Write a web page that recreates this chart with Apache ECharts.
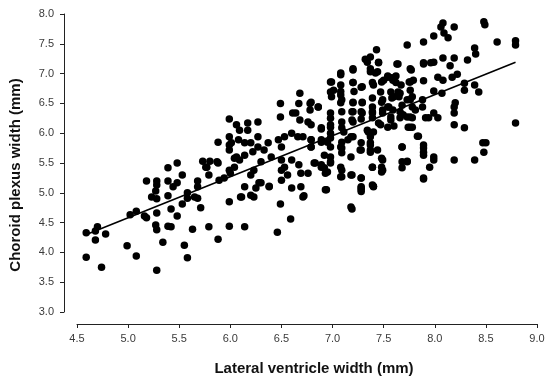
<!DOCTYPE html>
<html><head><meta charset="utf-8">
<script src="https://cdn.jsdelivr.net/npm/echarts@6/dist/echarts.min.js"></script>
<style>html,body{margin:0;padding:0;background:#fff}#c{width:550px;height:384px}</style>
</head><body><div id="c"></div>
<script>
// Lateral ventricle width (mm), Choroid plexus width (mm)
const pointsLeft = [
[4.59,4.33],[4.68,4.21],[4.70,4.43],[4.68,4.36],[4.78,4.31],[4.59,3.92],[4.74,3.75],[4.99,4.11],[5.08,3.94],[5.02,4.63],[5.08,4.69],[5.16,4.61],[5.18,4.58],[5.18,5.20],[5.28,5.20],[5.28,5.13],[5.27,5.03],[5.23,4.93],[5.28,4.90],[5.28,4.66],[5.27,4.46],[5.28,4.38],[5.34,4.17],[5.28,3.70],[5.39,5.42],[5.39,5.20],[5.39,4.95],[5.42,4.73],[5.39,4.44],[5.42,4.43],[5.48,5.50],[5.48,5.17],[5.44,5.10],[5.53,5.30],[5.48,4.61],[5.53,4.81],[5.55,4.12],[5.58,3.91],[5.58,5.00],[5.58,4.91],[5.63,4.39],[5.68,5.20],[5.68,5.10],[5.68,4.91],[5.71,4.75],[5.73,5.53],[5.77,5.43],[5.79,5.30],[5.80,5.53],[5.79,4.43],[5.88,5.85],[5.88,5.50],[5.89,5.21],[5.88,4.22],[5.94,5.25],[5.99,5.94],[5.99,5.72],[6.01,5.84],[5.99,5.38],[6.00,5.33],[5.99,4.85],[5.99,4.44],[6.04,5.58],[5.99,6.24],[5.87,5.52],[5.65,4.93],[5.76,5.43],[5.99,5.80]
];
const pointsMiddle = [
[6.68,6.67],[6.49,6.50],[6.49,6.27],[6.67,6.50],[6.78,6.50],[6.78,6.39],[6.86,6.44],[6.61,6.34],[6.64,6.34],[6.68,6.22],[6.76,6.19],[6.79,6.14],[6.89,6.07],[6.98,6.86],[6.98,6.69],[6.98,6.25],[6.98,6.14],[6.98,6.00],[7.08,7.01],[7.08,6.81],[7.08,6.64],[7.08,6.51],[7.20,7.06],[7.20,6.85],[7.21,6.70],[7.20,6.51],[7.20,6.36],[7.20,6.19],[7.29,6.78],[7.29,6.51],[7.29,6.34],[7.34,7.19],[7.37,7.03],[7.40,6.81],[7.44,7.03],[7.45,7.19],[7.50,6.89],[7.54,6.94],[7.39,6.44],[7.39,6.34],[7.49,6.56],[7.49,6.34],[7.54,6.44],
[6.06,6.14],[6.09,6.05],[6.17,6.17],[6.27,6.19],[6.17,6.05],[6.08,5.89],[6.14,5.84],[6.20,5.84],[6.27,5.94],[6.27,5.77],[6.06,5.60],[6.14,5.63],[6.09,5.55],[6.04,5.43],[6.22,5.69],[6.33,5.72],[6.37,5.84],[6.40,5.60],[6.30,5.52],[6.23,5.38],[6.20,5.30],[6.28,5.17],[6.25,5.08],[6.14,5.10],[6.11,4.93],[6.20,4.96],[6.38,5.10],[6.49,4.81],
[6.47,5.89],[6.53,5.94],[6.60,6.00],[6.66,5.94],[6.71,5.94],[6.79,5.89],[6.79,5.77],[6.89,5.85],[6.95,5.85],[6.50,5.77],[6.50,5.55],[6.53,5.43],[6.60,5.55],[6.50,5.38],[6.56,5.30],[6.50,5.21],[6.60,5.08],[6.67,5.47],[6.69,5.33],[6.69,5.10],[6.71,4.93],[6.76,5.33],[6.82,5.50],[6.89,5.43],[6.92,5.63],[6.95,5.35],[6.98,5.60],[6.98,5.50],[7.08,5.43],[7.08,5.27],[7.18,5.30],[6.93,5.05],[7.28,5.25],[7.28,5.08],[7.40,5.10],[7.39,5.43],[7.49,5.55],[7.49,5.38],[7.37,5.84],[7.37,5.72],[7.44,5.72],[7.27,5.72],[7.20,5.94],[7.11,6.02],[7.15,5.89],[7.08,5.77],[7.34,6.05],[7.40,6.02],[7.45,6.17],[7.54,6.10],[7.18,4.76],
[6.59,4.56],[6.46,4.34],[6.14,4.43],[7.19,4.73],[6.94,5.05],[6.72,4.95],[7.28,5.05],[7.40,5.11],[6.10,4.93],[6.23,4.93],[6.38,5.11],[6.30,5.17],
[6.83,5.50],[6.89,5.47],[6.92,5.42],[6.93,5.33],[6.98,5.52],[7.09,5.67],[7.09,5.38],[7.09,5.27],[7.19,5.30],[7.28,5.25],[7.28,5.10],[7.28,5.02],[7.39,5.43],[7.39,5.13],[7.48,5.58],[7.48,5.43],[7.48,5.35],
[7.43,7.40],[7.32,7.24],[7.37,7.28],[7.45,7.18],[7.37,7.08],[7.20,7.08],[7.42,7.01],[7.08,6.98],[6.99,6.86],[7.20,6.85],[7.28,6.77],[7.39,6.85],[7.48,6.86],[7.47,6.69],[7.01,6.72],[7.08,6.70],[6.99,6.61],[7.09,6.56],[7.20,6.52],[7.29,6.52],[7.39,6.59],[7.48,6.52],[6.86,6.44],[6.79,6.52],[6.98,6.34],[7.09,6.36],[7.19,6.36],[7.28,6.36],[7.39,6.36],[7.49,6.39],[7.09,6.19],[7.19,6.22],[7.28,6.24],[7.39,6.26],[7.47,6.14],[6.89,6.09],[6.98,6.10],[7.09,6.09],[7.35,6.02],[6.79,5.89],[6.89,5.89],[6.98,5.92],[7.09,5.85],[7.18,5.94],[7.28,5.84],[7.37,5.94],[7.37,5.80],[6.79,5.77],[6.98,5.77],[7.09,5.75],[7.28,5.72],[7.37,5.68],[7.18,5.60]
];
const pointsRight = [
[8.48,7.87],[8.49,7.82],[8.08,7.85],[8.06,7.78],[8.19,7.78],[8.09,7.68],[8.13,7.60],[7.99,7.63],[7.89,7.53],[7.73,7.48],[8.61,7.53],[8.79,7.55],[8.79,7.48],[8.39,7.43],[8.40,7.33],[8.08,7.26],[8.19,7.26],[8.32,7.23],[7.99,7.19],[7.96,7.18],[7.89,7.16],[8.15,7.13],[7.63,7.16],[7.77,7.06],[7.54,6.96],[7.62,6.96],[7.59,6.89],[7.67,6.81],[7.75,6.86],[7.79,6.89],[7.89,6.88],[8.03,6.94],[8.08,6.89],[8.17,6.94],[8.22,6.99],[8.29,6.84],[8.29,6.72],[8.39,6.81],[8.43,6.69],[7.99,6.71],[8.07,6.67],[7.64,6.69],[7.60,6.61],[7.65,6.61],[7.73,6.56],[7.78,6.61],[7.88,6.56],[7.88,6.44],[7.55,6.44],[7.59,6.39],[7.66,6.36],[7.78,6.44],[7.81,6.39],[8.20,6.51],[8.19,6.44],[8.19,6.34],[7.69,6.31],[7.73,6.27],[7.78,6.26],[7.94,6.26],[7.99,6.34],[8.03,6.26],[7.57,6.22],[7.60,6.12],[7.74,6.10],[7.78,6.10],[8.19,6.14],[8.29,6.09],[8.79,6.17],[7.84,5.95],[7.68,5.77],[7.89,5.80],[7.89,5.68],[8.47,5.84],[8.50,5.84],[8.48,5.68],[7.99,5.60],[8.19,5.55],[8.39,5.55],
[7.68,5.52],[7.68,5.42],[7.73,5.53],[7.89,5.63],[7.99,5.55],[7.95,5.43],[7.89,5.23],[7.64,7.16],[7.76,7.08],[7.58,6.93],[7.62,6.85],[7.76,6.86],[7.76,6.72],[7.57,6.69],[7.66,6.67],[7.58,6.59],[7.68,6.47],[7.76,6.56],[7.57,6.27],[7.66,6.26],[7.76,6.27],[7.91,6.26],[7.76,6.10],[7.83,5.95],[7.68,5.77],[7.89,5.75],[7.89,5.25],[7.73,5.52],[7.89,7.18]
];
const regressionLine = [[4.58,4.29],[8.79,7.19]];
const xTicks = [4.5, 9.0, 0.5]; // min, max, interval
const yTicks = [3.0, 8.0, 0.5];

const chart = echarts.init(document.getElementById('c'), null, {renderer:'canvas'});
const allPoints = pointsLeft.concat(pointsMiddle, pointsRight);
const labelStyle = {color:'#3a3a3a', fontSize:11, fontFamily:'Liberation Sans, Arial, sans-serif', formatter: v => v.toFixed(1)};
const lineStyle = {color:'#222', width:1};
chart.setOption({
  animation:false,
  backgroundColor:'#fff',
  grid:{left:75, right:13, top:14, bottom:72},
  xAxis:{
    type:'value', min:xTicks[0], max:xTicks[1], interval:xTicks[2], offset:12,
    name:'Lateral ventricle width (mm)', nameLocation:'middle', nameGap:37,
    nameTextStyle:{fontSize:15, fontWeight:'bold', color:'#111', fontFamily:'Liberation Sans, Arial, sans-serif', padding:[0,0,0,14]},
    axisLine:{show:true, onZero:false, lineStyle}, axisTick:{show:true, length:4, lineStyle},
    axisLabel:Object.assign({margin:9}, labelStyle), splitLine:{show:false}
  },
  yAxis:{
    type:'value', min:yTicks[0], max:yTicks[1], interval:yTicks[2], offset:13,
    name:'Choroid plexus width (mm)', nameLocation:'middle', nameGap:41,
    nameTextStyle:{fontSize:15, fontWeight:'bold', color:'#111', fontFamily:'Liberation Sans, Arial, sans-serif', padding:[0,24,0,0]},
    axisLine:{show:true, onZero:false, lineStyle}, axisTick:{show:true, length:4, lineStyle},
    axisLabel:Object.assign({margin:10}, labelStyle), splitLine:{show:false}
  },
  series:[
    {type:'scatter', data:allPoints, symbolSize:7.5, itemStyle:{color:'#000', opacity:1}, silent:true},
    {type:'line', data:regressionLine, symbol:'none', lineStyle:{color:'#000', width:1.6}, silent:true, z:3}
  ]
});
</script></body></html>
